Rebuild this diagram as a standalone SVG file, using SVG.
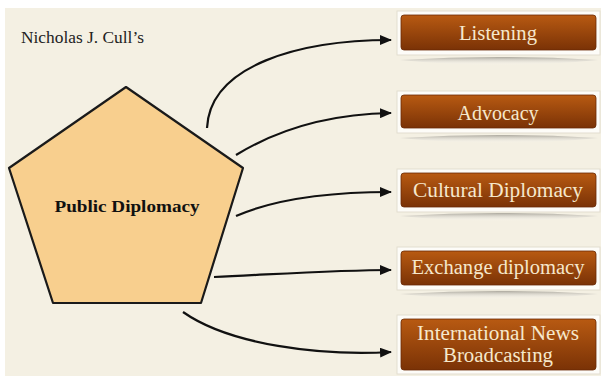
<svg xmlns="http://www.w3.org/2000/svg" width="601" height="376" viewBox="0 0 601 376">
<defs>
<linearGradient id="bx" x1="0" y1="0" x2="0" y2="1">
<stop offset="0" stop-color="#b85a12"/>
<stop offset="1" stop-color="#7a3206"/>
</linearGradient>
<linearGradient id="refl" x1="0" y1="0" x2="0" y2="1">
<stop offset="0" stop-color="#9a968c" stop-opacity="0.8"/>
<stop offset="1" stop-color="#ffffff" stop-opacity="0"/>
</linearGradient>
<marker id="ah" markerWidth="12" markerHeight="10" refX="11" refY="5" orient="auto" markerUnits="userSpaceOnUse">
<path d="M0,0 L12,5 L0,10 Z" fill="#111"/>
</marker>
<style>
.frame{fill:#fdfcf8;stroke:#e2ddd0;stroke-width:1}
.box{fill:url(#bx);stroke:#6a2a05;stroke-width:0.8}
.lbl{font-family:"Liberation Serif",serif;font-size:20px;fill:#f6e8cc;text-anchor:middle}
.conn{fill:none;stroke:#111;stroke-width:2.2;marker-end:url(#ah)}
.sh{fill:url(#refl)}
</style>
</defs>
<rect x="0" y="0" width="601" height="376" fill="#ffffff"/>
<rect x="5" y="8" width="596" height="368" fill="#f4f0e3"/>
<text x="21" y="43" font-family="Liberation Serif,serif" font-size="17" fill="#222" textLength="123" lengthAdjust="spacingAndGlyphs">Nicholas J. Cull’s</text>
<g id="public-diplomacy">
<polygon points="126,87 243,168 201,303 53,303 9,168" fill="#f8cf8e" stroke="#1a1a1a" stroke-width="2.2" stroke-linejoin="round"/>
<text x="127" y="212" font-family="Liberation Serif,serif" font-size="16.5" font-weight="bold" fill="#111" text-anchor="middle" textLength="145" lengthAdjust="spacingAndGlyphs">Public Diplomacy</text>
</g>
<g id="listening">
<rect class="frame" x="397" y="11" width="203" height="44"/>
<path class="sh" d="M400,60 Q498,54 598,60 Q498,70 400,60 Z"/>
<rect class="box" x="401" y="15" width="195" height="35" rx="3"/>
<text class="lbl" x="498" y="40" textLength="78" lengthAdjust="spacingAndGlyphs">Listening</text>
</g>
<g id="advocacy">
<rect class="frame" x="397" y="91" width="203" height="42"/>
<path class="sh" d="M400,138 Q498,132 598,138 Q498,148 400,138 Z"/>
<rect class="box" x="401" y="95" width="195" height="33" rx="3"/>
<text class="lbl" x="498" y="120" textLength="81" lengthAdjust="spacingAndGlyphs">Advocacy</text>
</g>
<g id="cultural-diplomacy">
<rect class="frame" x="397" y="169" width="203" height="43"/>
<path class="sh" d="M400,216 Q498,210 598,216 Q498,226 400,216 Z"/>
<rect class="box" x="401" y="173" width="195" height="34" rx="3"/>
<text class="lbl" x="498" y="197" textLength="170" lengthAdjust="spacingAndGlyphs">Cultural Diplomacy</text>
</g>
<g id="exchange-diplomacy">
<rect class="frame" x="397" y="247" width="203" height="43"/>
<path class="sh" d="M400,294 Q498,288 598,294 Q498,304 400,294 Z"/>
<rect class="box" x="401" y="251" width="195" height="34" rx="3"/>
<text class="lbl" x="498" y="274" textLength="173" lengthAdjust="spacingAndGlyphs">Exchange diplomacy</text>
</g>
<g id="international-news">
<rect class="frame" x="397" y="315" width="203" height="59"/>
<rect class="box" x="401" y="319" width="195" height="51" rx="3"/>
<text class="lbl" x="498" y="340" textLength="162" lengthAdjust="spacingAndGlyphs">International News</text>
<text class="lbl" x="498" y="362" textLength="110" lengthAdjust="spacingAndGlyphs">Broadcasting</text>
</g>
<g id="connectors">
<path class="conn" d="M207,128 C210,65 300,40 391,40"/>
<path class="conn" d="M236,155 C280,128 330,114 391,113"/>
<path class="conn" d="M236,216 C275,199 330,192 391,192"/>
<path class="conn" d="M214,277 C280,274 340,270 391,270"/>
<path class="conn" d="M183,312 C230,345 320,356 391,352"/>
</g>
</svg>
